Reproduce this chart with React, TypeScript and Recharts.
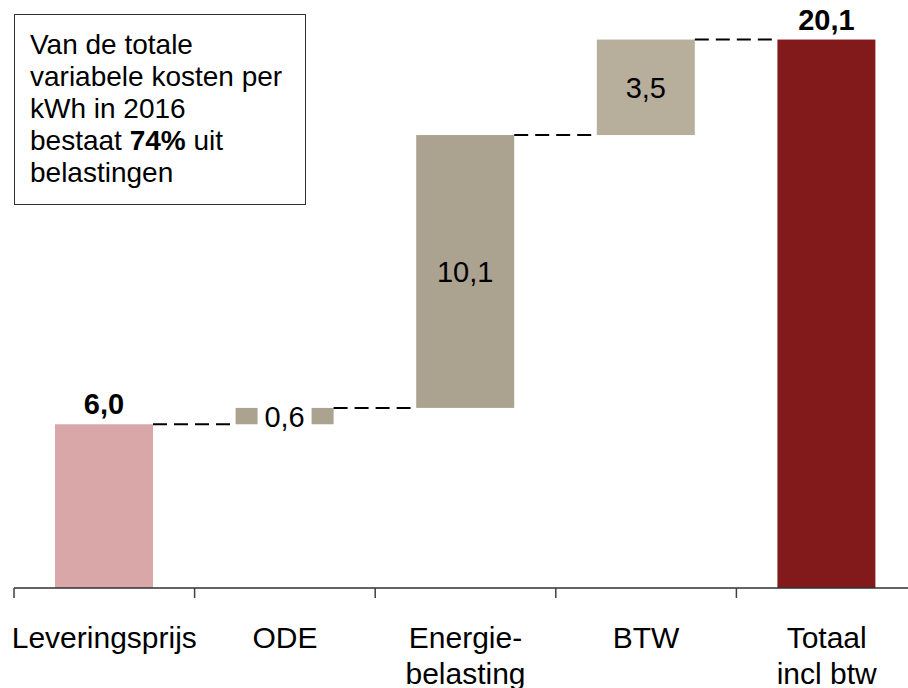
import { Bar, BarChart, XAxis, YAxis } from "recharts"

// waterfall: variabele kosten per kWh (2016), ct/kWh
const categories = ["Leveringsprijs", "ODE", "Energie-\nbelasting", "BTW", "Totaal\nincl btw"]
const barLow = [0, 6.0, 6.6, 16.6, 0]
const barHigh = [6.0, 6.6, 16.6, 20.1, 20.1]
const valueLabels = ["6,0", "0,6", "10,1", "3,5", "20,1"]
const barKinds = ["start", "step", "step", "step", "total"]
const barColors = ["#D9A7A7", "#ABA38F", "#ABA38F", "#B7AE9B", "#821A1C"]

const FONT = "'Liberation Sans', Arial, sans-serif"
const CHART_W = 920
const CHART_H = 688
const MARGIN = { top: 15, right: 3, left: 14, bottom: 0 }
const BAND = (CHART_W - MARGIN.left - MARGIN.right) / categories.length

const data = categories.map((name, i) => ({
  name,
  base: barLow[i],
  value: barHigh[i] - barLow[i],
  label: valueLabels[i],
  kind: barKinds[i],
  color: barColors[i],
}))

function WaterfallBar(props: any) {
  const { x, y, width, height, index, payload } = props
  const last = index === data.length - 1
  const cx = x + width / 2
  const small = height < 30
  return (
    <g>
      <rect x={x} y={y} width={width} height={height} fill={payload.color} />
      {!last && (
        <line
          x1={x + width}
          x2={x + BAND}
          y1={y}
          y2={y}
          stroke="#000"
          strokeWidth={2}
          strokeDasharray="14 7"
        />
      )}
      {payload.kind !== "step" ? (
        <text
          x={cx}
          y={y - 10}
          textAnchor="middle"
          fontFamily={FONT}
          fontSize={29}
          fontWeight="bold"
          fill="#000"
        >
          {payload.label}
        </text>
      ) : (
        <g>
          {small && <rect x={cx - 27} y={y - 8} width={54} height={height + 16} fill="#fff" />}
          <text
            x={cx}
            y={y + height / 2 + 11}
            textAnchor="middle"
            fontFamily={FONT}
            fontSize={29}
            fill="#000"
          >
            {payload.label}
          </text>
        </g>
      )}
    </g>
  )
}

function CategoryTick(props: any) {
  const { x, y, payload } = props
  const lines = String(payload.value).split("\n")
  const left = x - BAND / 2
  return (
    <g>
      <line x1={left} x2={left} y1={y} y2={y + 10} stroke="#404040" strokeWidth={1.5} />
      <text x={x} y={y + 60} textAnchor="middle" fontFamily={FONT} fontSize={30} fill="#000">
        {lines.map((line, i) => (
          <tspan key={i} x={x} dy={i === 0 ? 0 : 36}>
            {line}
          </tspan>
        ))}
      </text>
    </g>
  )
}

export default function App() {
  return (
    <div
      style={{
        position: "fixed",
        left: 0,
        top: 0,
        width: 908,
        height: 688,
        overflow: "hidden",
        background: "#fff",
        fontFamily: FONT,
      }}
    >
      <BarChart width={CHART_W} height={CHART_H} data={data} margin={MARGIN}>
        <XAxis
          dataKey="name"
          interval={0}
          tickLine={false}
          tickSize={0}
          tickMargin={0}
          height={100}
          axisLine={{ stroke: "#303030", strokeWidth: 1.5 }}
          tick={<CategoryTick />}
        />
        <YAxis hide domain={[0, 21]} />
        <Bar dataKey="base" stackId="w" fill="transparent" barSize={98} isAnimationActive={false} />
        <Bar
          dataKey="value"
          stackId="w"
          barSize={98}
          shape={<WaterfallBar />}
          isAnimationActive={false}
        />
      </BarChart>
      <div
        style={{
          position: "absolute",
          left: 14,
          top: 14,
          width: 292,
          height: 191,
          boxSizing: "border-box",
          border: "1.5px solid #303030",
          padding: "14px 0 0 15px",
          fontSize: 28,
          lineHeight: "32px",
          color: "#000",
          background: "#fff",
        }}
      >
        Van de totale
        <br />
        variabele kosten per
        <br />
        kWh in 2016
        <br />
        bestaat <b>74%</b> uit
        <br />
        belastingen
      </div>
    </div>
  )
}
